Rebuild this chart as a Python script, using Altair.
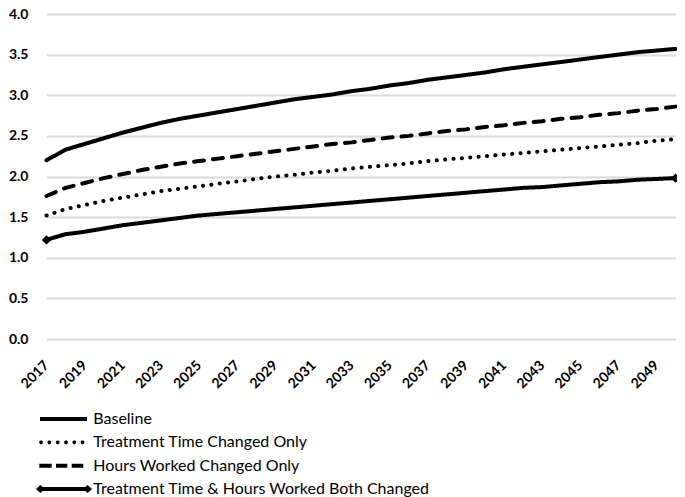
import altair as alt
import pandas as pd

years = list(range(2017, 2051))
baseline = [2.20, 2.33, 2.40, 2.47, 2.54, 2.60, 2.66, 2.71, 2.75, 2.79, 2.83, 2.87, 2.91, 2.95, 2.98, 3.01, 3.05,
            3.08, 3.12, 3.15, 3.19, 3.22, 3.25, 3.28, 3.32, 3.35, 3.38, 3.41, 3.44, 3.47, 3.50, 3.53, 3.55, 3.57]
treatment = [1.52, 1.60, 1.65, 1.70, 1.74, 1.78, 1.82, 1.85, 1.88, 1.91, 1.94, 1.97, 2.00, 2.02, 2.05, 2.07, 2.10,
             2.12, 2.14, 2.16, 2.19, 2.21, 2.23, 2.25, 2.27, 2.29, 2.31, 2.33, 2.35, 2.37, 2.39, 2.41, 2.44, 2.46]
hours = [1.76, 1.86, 1.92, 1.98, 2.03, 2.08, 2.12, 2.16, 2.19, 2.22, 2.25, 2.28, 2.31, 2.34, 2.37, 2.40, 2.42,
         2.45, 2.48, 2.50, 2.53, 2.56, 2.58, 2.61, 2.63, 2.66, 2.68, 2.71, 2.73, 2.76, 2.78, 2.81, 2.83, 2.86]
both = [1.22, 1.29, 1.32, 1.36, 1.40, 1.43, 1.46, 1.49, 1.52, 1.54, 1.56, 1.58, 1.60, 1.62, 1.64, 1.66, 1.68,
        1.70, 1.72, 1.74, 1.76, 1.78, 1.80, 1.82, 1.84, 1.86, 1.87, 1.89, 1.91, 1.93, 1.94, 1.96, 1.97, 1.98]

names = ["Baseline", "Treatment Time Changed Only", "Hours Worked Changed Only",
         "Treatment Time & Hours Worked Both Changed"]
tick_years = years[::2]
y_ticks = [0.0, 0.5, 1.0, 1.5, 2.0, 2.5, 3.0, 3.5, 4.0]

rows = []
for name, vals in zip(names, [baseline, treatment, hours, both]):
    for yr, v in zip(years, vals):
        rows.append({"year": yr, "series": name, "value": v})
df = pd.DataFrame(rows)
legend_df = pd.DataFrame({"series": names})

FONT = "Lato"
both_name = names[3]


# legend symbol glyphs (unit = 5px), drawn as filled shapes
def rect(x0, x1, h=0.4):
    return f"M{x0:.2f},{-h:.2f}L{x1:.2f},{-h:.2f}L{x1:.2f},{h:.2f}L{x0:.2f},{h:.2f}Z"


def dot(cx, r=0.36):
    k = r * 0.414
    return (f"M{cx - r:.2f},{-k:.2f}L{cx - k:.2f},{-r:.2f}L{cx + k:.2f},{-r:.2f}L{cx + r:.2f},{-k:.2f}"
            f"L{cx + r:.2f},{k:.2f}L{cx + k:.2f},{r:.2f}L{cx - k:.2f},{r:.2f}L{cx - r:.2f},{k:.2f}Z")


def diamond(cx, w=0.9, h=0.8):
    return f"M{cx - w:.2f},0L{cx:.2f},{-h:.2f}L{cx + w:.2f},0L{cx:.2f},{h:.2f}Z"


sym_solid = rect(-4.7, 4.7)
sym_dotted = "".join(dot(c) for c in [-4.5, -2.84, -1.16, 0.5, 2.16, 3.8])
sym_dashed = rect(-4.84, -2.36) + rect(-1.5, 0.76) + rect(1.64, 3.96)
sym_both = rect(-4.6, 4.8) + diamond(-4.6) + diamond(4.8)

x_enc = alt.X("year:O", title=None,
              scale=alt.Scale(type="point", range=[9.5, 638.5], padding=0),
              axis=alt.Axis(values=tick_years, labelAngle=-45, labelAlign="right", labelBaseline="middle",
                            labelFont=FONT, labelFontWeight="bold", labelFontSize=14, labelColor="black",
                            labelPadding=24, domain=False, ticks=False, grid=False))
y_scale = alt.Scale(domain=[0, 4], nice=False)
y_enc = alt.Y("value:Q", title=None, scale=y_scale,
              axis=alt.Axis(values=y_ticks, format=".1f", labelFont=FONT, labelFontWeight="bold",
                            labelFontSize=14, labelColor="black", labelPadding=9, domain=False, ticks=False,
                            grid=True, gridColor="#d9d9d9", gridWidth=2))

lines = alt.Chart(df).mark_line(strokeWidth=4, strokeCap="round", strokeJoin="round", color="black").encode(
    x=x_enc, y=y_enc,
    strokeDash=alt.StrokeDash("series:N",
                              scale=alt.Scale(domain=names, range=[[1, 0], [0.1, 8.3], [10, 9], [1, 0]]),
                              legend=None),
    detail="series:N",
)

ends = alt.Chart(df).transform_filter(
    (alt.datum.series == both_name) & ((alt.datum.year == years[0]) | (alt.datum.year == years[-1]))
).mark_point(shape="diamond", filled=True, size=90, color="black", opacity=1).encode(
    x=x_enc, y=alt.Y("value:Q", scale=y_scale, axis=None)
)

# legend rows, placed below the plot through an ordinal row scale
legend_y = alt.Y("series:N", title=None, axis=None,
                 scale=alt.Scale(type="point", domain=names, range=[405, 475], padding=0))

legend_symbols = alt.Chart(legend_df).mark_point(
    filled=True, opacity=1, color="black", size=100, strokeWidth=0
).encode(
    x=alt.value(26.5), y=legend_y,
    shape=alt.Shape("series:N",
                    scale=alt.Scale(domain=names, range=[sym_solid, sym_dotted, sym_dashed, sym_both]),
                    legend=None),
)

legend_text = alt.Chart(legend_df).mark_text(
    align="left", baseline="middle", font=FONT, fontSize=16, color="black"
).encode(
    x=alt.value(56.3), y=legend_y, text="series:N"
)

chart = alt.layer(lines, ends, legend_symbols, legend_text).resolve_scale(
    y="independent"
).properties(
    width=640, height=325,
    autosize=alt.AutoSizeParams(type="none"),
    padding={"left": 29, "top": 6, "right": 0, "bottom": 158},
).configure_view(stroke=None)

chart.save("out.html", embed_options={"renderer": "svg", "actions": False})
